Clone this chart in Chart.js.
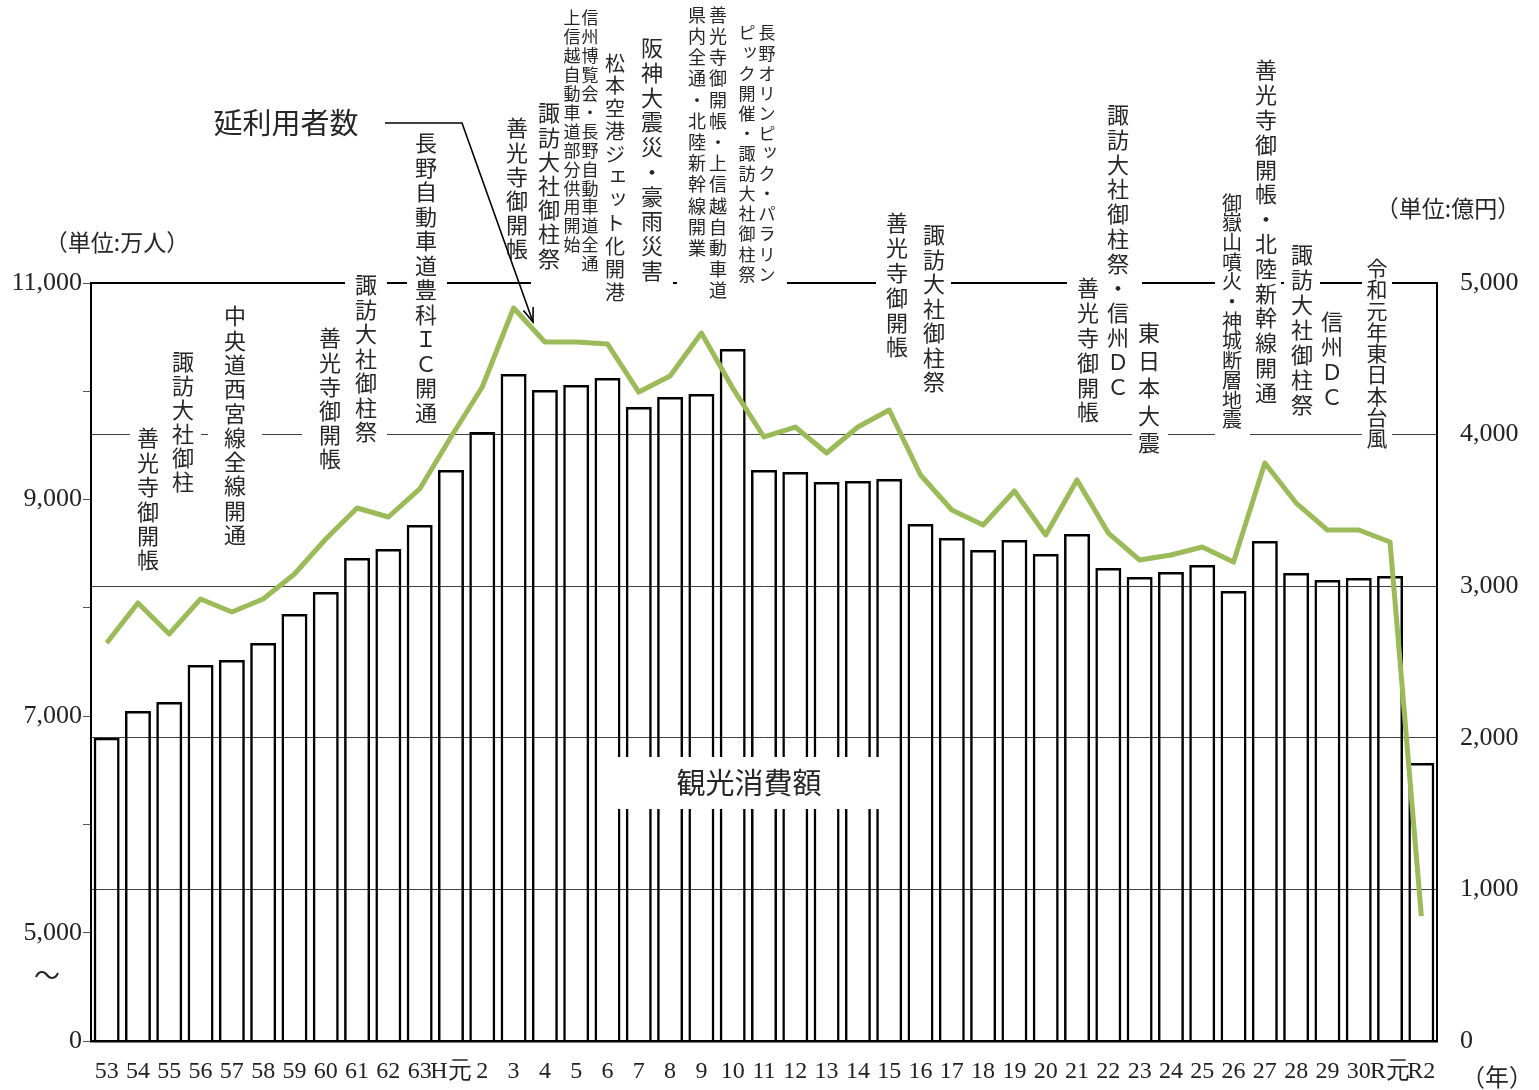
<!DOCTYPE html>
<html lang="ja">
<head>
<meta charset="utf-8">
<script src="https://cdn.jsdelivr.net/npm/chart.js@4.4.1/dist/chart.umd.min.js"></script>
<style>
  html, body { margin: 0; padding: 0; background: #fff; }
  #wrap { width: 1539px; height: 1090px; }
</style>
</head>
<body>
<div id="wrap"><canvas id="chart" width="1539" height="1090"></canvas></div>
<script>
// 年 (昭和53年〜令和2年)
const years = ['53','54','55','56','57','58','59','60','61','62','63','H元',
  '2','3','4','5','6','7','8','9','10','11','12','13','14','15','16','17','18',
  '19','20','21','22','23','24','25','26','27','28','29','30','R元','R2'];

// 延利用者数 (万人) - 左軸
const visitors = [7675, 8045, 7759, 8082, 7962, 8082, 8313, 8636, 8922, 8839, 9098,
  9578, 10040, 10769, 10455, 10455, 10437, 9993, 10141, 10538, 10030, 9578, 9670,
  9430, 9670, 9827, 9227, 8904, 8765, 9079, 8673, 9181, 8691, 8442, 8488, 8562,
  8423, 9338, 8968, 8719, 8719, 8608, 5154];

// 観光消費額 (億円) - 右軸
const spending = [2000, 2177, 2236, 2480, 2513, 2625, 2817, 2962, 3186, 3245, 3404,
  3766, 4017, 4400, 4294, 4327, 4373, 4182, 4248, 4268, 4564, 3766, 3753, 3687,
  3694, 3707, 3410, 3318, 3239, 3305, 3212, 3344, 3120, 3061, 3094, 3140, 2968,
  3298, 3087, 3041, 3054, 3067, 1834];

// 左軸 (途中省略あり: 下端を0と表示)
const leftTicks = [4000, 5000, 6000, 7000, 8000, 9000, 10000, 11000];
const leftTickLabels = { 4000: '0', 5000: '5,000', 7000: '7,000', 9000: '9,000', 11000: '11,000' };
const rightTicks = [0, 1000, 2000, 3000, 4000, 5000];

// 出来事の注記 (縦書き、右の列から)
const notes = [
  { cols: ['善光寺御開帳'], x: [148], y: 438, fs: 22, pitch: 24.4, box: [130, 166, 420, 575] },
  { cols: ['諏訪大社御柱'], x: [183], y: 362, fs: 22, pitch: 24, box: [166, 201, 352, 500] },
  { cols: ['中央道西宮線全線開通'], x: [235], y: 316, fs: 22, pitch: 24.3, box: [208, 262, 305, 553] },
  { cols: ['善光寺御開帳'], x: [330], y: 338, fs: 22, pitch: 24.2, box: [302, 346, 328, 478] },
  { cols: ['諏訪大社御柱祭'], x: [366], y: 285, fs: 22, pitch: 24.5, box: [345, 387, 266, 448] },
  { cols: ['長野自動車道豊科ＩＣ開通'], x: [426], y: 143, fs: 22, pitch: 24.5, box: [407, 447, 124, 430] },
  { cols: ['善光寺御開帳'], x: [517], y: 128, fs: 22, pitch: 24.2, box: [500, 534, 117, 268] },
  { cols: ['諏訪大社御柱祭'], x: [549], y: 113, fs: 22, pitch: 24.2, box: [531, 566, 102, 290] },
  { cols: ['信州博覧会・長野自動車道全通', '上信越自動車道部分供用開始'], x: [590, 572], y: 18, fs: 17, pitch: 18.9, box: [562, 602, 8, 290] },
  { cols: ['松本空港ジェット化開港'], x: [615], y: 63, fs: 20, pitch: 22.9, box: [602, 633, 52, 305] },
  { cols: ['阪神大震災・豪雨災害'], x: [652], y: 48, fs: 22, pitch: 24.7, box: [633, 673, 36, 290] },
  { cols: ['善光寺御開帳・上信越自動車道', '県内全通・北陸新幹線開業'], x: [718, 697], y: 15, fs: 18, pitch: 21.2, box: [677, 733, 4, 302] },
  { cols: ['長野オリンピック・パラリン', 'ピック開催・諏訪大社御柱祭'], x: [767, 747], y: 33, fs: 17, pitch: 20.1, box: [733, 787, 22, 290] },
  { cols: ['善光寺御開帳'], x: [897], y: 223, fs: 22, pitch: 24.8, box: [876, 913, 210, 356] },
  { cols: ['諏訪大社御柱祭'], x: [934], y: 235, fs: 22, pitch: 24.5, box: [913, 951, 224, 392] },
  { cols: ['善光寺御開帳'], x: [1088], y: 288, fs: 22, pitch: 24.8, box: [1067, 1103, 276, 422] },
  { cols: ['諏訪大社御柱祭・信州ＤＣ'], x: [1118], y: 115, fs: 22, pitch: 24.7, box: [1103, 1142, 104, 398] },
  { cols: ['東日本大震'], x: [1149], y: 333, fs: 22, pitch: 27.5, box: [1132, 1168, 320, 455] },
  { cols: ['御嶽山噴火・神城断層地震'], x: [1232], y: 203, fs: 20, pitch: 19.7, box: [1215, 1250, 192, 440] },
  { cols: ['善光寺御開帳・北陸新幹線開通'], x: [1266], y: 70, fs: 22, pitch: 24.8, box: [1250, 1281, 58, 405] },
  { cols: ['諏訪大社御柱祭'], x: [1302], y: 255, fs: 22, pitch: 25, box: [1284, 1320, 243, 415] },
  { cols: ['信州ＤＣ'], x: [1332], y: 322, fs: 22, pitch: 25, box: [1320, 1345, 310, 408] },
  { cols: ['令和元年東日本台風'], x: [1377], y: 268, fs: 21, pitch: 21.3, box: [1362, 1392, 256, 450] }
];

const JP = "'Noto Sans CJK JP', sans-serif";
const SERIF = "'Liberation Serif', 'Times New Roman', serif";
const smallKana = 'ッェャュョァィゥォ';

function drawVertical(ctx, str, x, y0, pitch) {
  [...str].forEach((ch, i) => {
    let dx = 0, dy = 0;
    if (smallKana.includes(ch)) { dx = 3; dy = -3; }
    ctx.fillText(ch, x + dx, y0 + i * pitch + dy);
  });
}

const notesPlugin = {
  id: 'notes',
  afterDatasetsDraw(chart) {
    const ctx = chart.ctx;
    ctx.save();
    // 白抜きの箱
    ctx.fillStyle = '#fff';
    notes.forEach(n => {
      const b = n.box;
      ctx.fillRect(b[0], b[2], b[1] - b[0], b[3] - b[2]);
    });
    ctx.fillRect(600, 757, 282, 52);

    ctx.fillStyle = '#262626';
    ctx.textAlign = 'center';
    ctx.textBaseline = 'middle';
    notes.forEach(n => {
      ctx.font = n.fs + 'px ' + JP;
      n.cols.forEach((c, i) => drawVertical(ctx, c, n.x[i], n.y, n.pitch));
    });

    // 系列名
    ctx.font = '29px ' + JP;
    ctx.fillText('観光消費額', 749, 783);
    ctx.fillText('延利用者数', 286, 123);

    // 単位
    ctx.font = '23px ' + JP;
    ctx.fillText('（単位:万人）', 117, 242);
    ctx.fillText('（単位:億円）', 1448, 208);
    ctx.font = '24px ' + JP;
    ctx.fillText('（年）', 1497, 1077);

    // 省略記号
    ctx.font = '26px ' + JP;
    ctx.fillText('～', 47, 975);

    // 引出線と矢印
    ctx.strokeStyle = '#000';
    ctx.lineWidth = 1.6;
    ctx.beginPath();
    ctx.moveTo(385, 123);
    ctx.lineTo(462, 123);
    ctx.lineTo(533, 322);
    ctx.stroke();
    const ang = Math.atan2(322 - 123, 533 - 462);
    ctx.beginPath();
    ctx.moveTo(533 - 15 * Math.cos(ang - 0.35), 322 - 15 * Math.sin(ang - 0.35));
    ctx.lineTo(533, 322);
    ctx.lineTo(533 - 15 * Math.cos(ang + 0.35), 322 - 15 * Math.sin(ang + 0.35));
    ctx.stroke();
    ctx.restore();
  }
};

const ctx = document.getElementById('chart').getContext('2d');
new Chart(ctx, {
  data: {
    labels: years,
    datasets: [{
      type: 'line',
      label: '延利用者数',
      data: visitors,
      yAxisID: 'yL',
      borderColor: '#9BBB59',
      borderWidth: 5,
      pointRadius: 0,
      tension: 0,
      borderJoinStyle: 'round',
      order: 0
    }, {
      type: 'bar',
      label: '観光消費額',
      data: spending,
      yAxisID: 'yR',
      backgroundColor: 'rgba(255,255,255,0)',
      borderColor: '#000',
      borderWidth: 2.5,
      barPercentage: 0.83,
      categoryPercentage: 1,
      order: 1
    }]
  },
  options: {
    responsive: false,
    animation: false,
    layout: { padding: { top: 283, left: 0, right: 0, bottom: 0 } },
    plugins: {
      legend: { display: false },
      tooltip: { enabled: false }
    },
    scales: {
      x: {
        grid: { display: false, drawTicks: false },
        border: { display: true, color: '#000', width: 2.5 },
        ticks: {
          color: '#222',
          font: { family: SERIF, size: 24 },
          padding: 16,
          maxRotation: 0,
          autoSkip: false
        },
        afterFit(scale) { scale.height = 49; }
      },
      yL: {
        position: 'left',
        min: 4000,
        max: 11000,
        afterBuildTicks(scale) { scale.ticks = leftTicks.map(v => ({ value: v })); },
        grid: { drawOnChartArea: false, drawTicks: true, tickLength: 8, color: '#555' },
        border: { display: true, color: '#000', width: 2 },
        ticks: {
          color: '#222',
          font: { family: SERIF, size: 26 },
          padding: 1,
          callback: v => leftTickLabels[v] || ''
        },
        afterFit(scale) { scale.width = 91; }
      },
      yR: {
        position: 'right',
        min: 0,
        max: 5000,
        afterBuildTicks(scale) { scale.ticks = rightTicks.map(v => ({ value: v })); },
        grid: {
          drawTicks: false,
          color: ctx => ctx.tick && ctx.tick.value === 5000 ? '#000' : '#404040',
          lineWidth: ctx => ctx.tick && ctx.tick.value === 5000 ? 2 : 1
        },
        border: { display: true, color: '#000', width: 2 },
        ticks: {
          color: '#222',
          font: { family: SERIF, size: 26 },
          padding: 23,
          callback: v => v.toLocaleString('en-US')
        },
        afterFit(scale) { scale.width = 102; }
      }
    }
  },
  plugins: [notesPlugin]
});
</script>
</body>
</html>
